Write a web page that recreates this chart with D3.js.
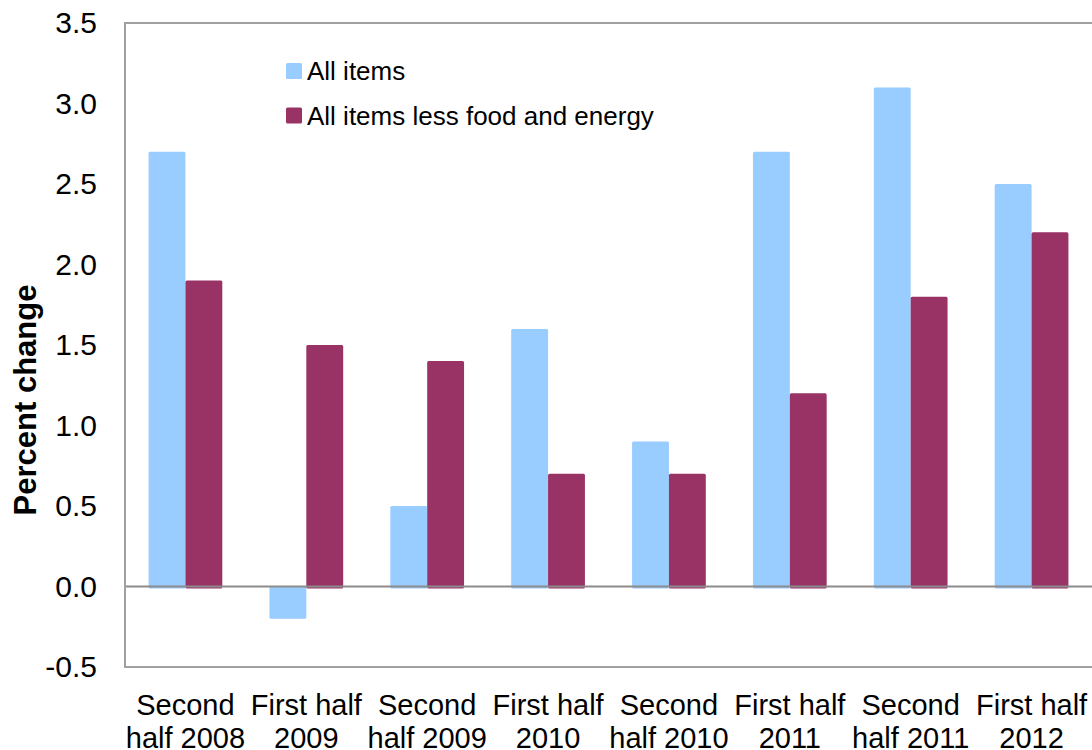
<!DOCTYPE html>
<html>
<head>
<meta charset="utf-8">
<script src="https://cdn.jsdelivr.net/npm/d3@7"></script>
<style>
  html, body { margin: 0; padding: 0; background: #fff; }
  svg { display: block; font-family: "Liberation Sans", Arial, sans-serif; }
</style>
</head>
<body>
<svg id="chart" width="1092" height="750"></svg>
<script>
// Half-year periods
const categories = [
  ["Second", "half 2008"],
  ["First half", "2009"],
  ["Second", "half 2009"],
  ["First half", "2010"],
  ["Second", "half 2010"],
  ["First half", "2011"],
  ["Second", "half 2011"],
  ["First half", "2012"]
];
const seriesNames = ["All items", "All items less food and energy"];
const allItems = [2.7, -0.2, 0.5, 1.6, 0.9, 2.7, 3.1, 2.5];
const coreItems = [1.9, 1.5, 1.4, 0.7, 0.7, 1.2, 1.8, 2.2];
const yTicks = [-0.5, 0.0, 0.5, 1.0, 1.5, 2.0, 2.5, 3.0, 3.5];
const colors = ["#99CCFF", "#993366"];

const svg = d3.select("#chart");
const plot = { left: 125, right: 1092, top: 23, bottom: 667 };

const keys = categories.map((c, i) => i);
const x0 = d3.scaleBand().domain(keys).range([plot.left, plot.right]).padding(0);
const groupPad = x0.bandwidth() * 0.195;
const x1 = d3.scaleBand().domain([0, 1])
  .range([groupPad, x0.bandwidth() - groupPad]).padding(0);
const y = d3.scaleLinear().domain([-0.5, 3.5]).range([plot.bottom, plot.top]);

const seriesValues = [allItems, coreItems];

// Bars
seriesValues.forEach((vals, s) => {
  svg.append("g").selectAll("rect")
    .data(vals)
    .join("rect")
    .attr("x", (d, i) => x0(i) + x1(s))
    .attr("width", x1.bandwidth())
    .attr("y", d => d >= 0 ? y(d) : y(0))
    .attr("height", d => Math.abs(y(d) - y(0)) + (d >= 0 ? 2 : 0))
    .attr("rx", 1.5)
    .attr("fill", colors[s]);
});

// Zero line
svg.append("line")
  .attr("x1", plot.left).attr("x2", plot.right)
  .attr("y1", y(0)).attr("y2", y(0))
  .attr("stroke", "#8c8c8c").attr("stroke-width", 2);

// Plot frame (left, top, bottom)
svg.append("path")
  .attr("d", `M${plot.right},${plot.top}H${plot.left}V${plot.bottom}H${plot.right}`)
  .attr("fill", "none")
  .attr("stroke", "#a0a0a0")
  .attr("stroke-width", 2);

// Y axis labels
const yAxis = d3.axisLeft(y).tickValues(yTicks)
  .tickFormat(d => d.toFixed(1))
  .tickSize(0).tickPadding(28);
const yg = svg.append("g").attr("transform", `translate(${plot.left},0)`).call(yAxis);
yg.select(".domain").remove();
yg.selectAll("text")
  .attr("font-size", 30)
  .attr("font-family", "Liberation Sans, Arial, sans-serif")
  .attr("fill", "#000");

// Y axis title
svg.append("text")
  .attr("transform", `translate(36,400) rotate(-90)`)
  .attr("text-anchor", "middle")
  .attr("font-size", 31)
  .attr("font-weight", "bold")
  .attr("fill", "#000")
  .text("Percent change");

// Category labels
const xg = svg.append("g");
categories.forEach((lines, i) => {
  const t = xg.append("text")
    .attr("x", x0(i) + x0.bandwidth() / 2)
    .attr("text-anchor", "middle")
    .attr("font-size", 29)
    .attr("fill", "#000");
  lines.forEach((ln, k) => {
    t.append("tspan")
      .attr("x", x0(i) + x0.bandwidth() / 2)
      .attr("y", 715 + k * 33)
      .text(ln);
  });
});

// Legend
const legend = svg.append("g").attr("transform", "translate(286,63)");
seriesNames.forEach((name, s) => {
  const g = legend.append("g").attr("transform", `translate(0,${s * 44.5})`);
  g.append("rect").attr("width", 16).attr("height", 16).attr("rx", 1.5)
    .attr("fill", colors[s]);
  g.append("text").attr("x", 21).attr("y", 17)
    .attr("font-size", 26)
    .attr("fill", "#000")
    .text(name);
});
</script>
</body>
</html>
